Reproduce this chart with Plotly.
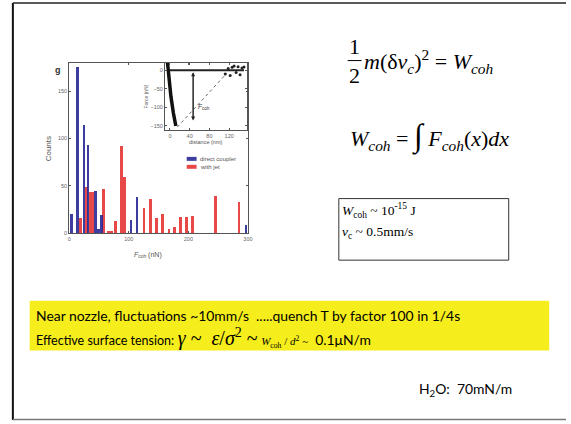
import plotly.graph_objects as go

W, H = 571, 424

# ---- histogram data: cohesive force distribution (counts per bin) ----
direct_force = [4, 14, 25, 32, 44, 49, 55, 104, 114, 297]
direct_counts = [21, 176, 115, 94, 45, 5, 20, 15, 39, 9]

jet_force = [19, 29, 35, 39, 58, 66, 71, 78, 88, 93, 126, 137, 147, 157,
             168, 177, 187, 197, 207, 246, 285]
jet_counts = [17, 49, 44, 44, 47, 3, 3, 14, 92, 60, 27, 37, 17, 21,
              5, 7, 18, 18, 19, 40, 33]

series_names = ["direct coupler", "with jet"]
series_colors = ["rgba(40,40,150,0.9)", "rgba(228,52,52,0.9)"]

x_ticks = [0, 100, 200, 300]
y_ticks = [0, 50, 100, 150]

# ---- inset: force-distance curve ----
approach_dist = [-5, -2, 2, 7, 12]
approach_force = [22, -20, -70, -115, -150]
baseline_dist = [0, 150]
baseline_force = [0, 0]
noise_dist = [112, 118, 122, 126, 130, 134, 138, 142, 146, 150]
noise_force = [-10, 5, -14, 8, 12, -6, 10, -12, 6, 9]
fit_dist = [15, 115]
fit_force = [-153, -8]
fcoh_dist = 47
fcoh_top, fcoh_bottom = -5, -135
inset_x_ticks = [0, 40, 80, 120]
inset_y_ticks = [0, -50, -100, -150]


def fx(px):
    return px / W


def fy(py):
    return 1 - py / H


fig = go.Figure()

fig.add_trace(go.Bar(x=jet_force, y=jet_counts, width=4.5, name=series_names[1],
                     marker=dict(color=series_colors[1], line=dict(width=0))))
fig.add_trace(go.Bar(x=direct_force, y=direct_counts, width=4.5, name=series_names[0],
                     marker=dict(color=series_colors[0], line=dict(width=0))))

# inset traces
fig.add_trace(go.Scatter(x=baseline_dist, y=baseline_force, mode="lines",
                         line=dict(color="#222", width=2), xaxis="x2", yaxis="y2"))
fig.add_trace(go.Scatter(x=approach_dist, y=approach_force, mode="lines",
                         line=dict(color="#111", width=3.5), xaxis="x2", yaxis="y2"))
fig.add_trace(go.Scatter(x=fit_dist, y=fit_force, mode="lines",
                         line=dict(color="#666", width=1, dash="dot"), xaxis="x2", yaxis="y2"))
fig.add_trace(go.Scatter(x=noise_dist, y=noise_force, mode="markers",
                         marker=dict(color="#222", size=3), xaxis="x2", yaxis="y2"))

axis_common = dict(showline=True, linecolor="#555", linewidth=1, mirror="ticks",
                   ticks="inside", ticklen=2, tickcolor="#555", showgrid=False,
                   zeroline=False, tickfont=dict(size=5.5, color="#666", family="Liberation Sans"))

fig.update_layout(
    width=W, height=H,
    margin=dict(l=0, r=0, t=0, b=0),
    paper_bgcolor="white", plot_bgcolor="rgba(0,0,0,0)",
    barmode="overlay", bargap=0,
    showlegend=False,
    xaxis=dict(domain=[fx(68), fx(249)], range=[0, 300], tickvals=x_ticks,
               anchor="y", **axis_common),
    yaxis=dict(domain=[fy(235), fy(63)], range=[0, 180], tickvals=y_ticks,
               anchor="x", **axis_common),
    xaxis2=dict(domain=[fx(165), fx(248)], range=[-10, 156], tickvals=inset_x_ticks,
                anchor="y2", **axis_common),
    yaxis2=dict(domain=[fy(131), fy(63)], range=[-161, 21], tickvals=inset_y_ticks,
                anchor="x2", **axis_common),
)

ann = []


def text(px, py, s, size, family="Liberation Serif", color="black", xanchor="left",
         yanchor="middle", angle=0):
    ann.append(dict(x=fx(px), y=fy(py), xref="paper", yref="paper", text=s,
                    showarrow=False, xanchor=xanchor, yanchor=yanchor, textangle=angle,
                    borderpad=0,
                    font=dict(size=size, family=family, color=color)))


# chart labels
text(48, 150, "Counts", 8, family="Liberation Sans", color="#555", xanchor="center", angle=-90)
text(148, 257, "<i>F</i><sub>coh</sub> (nN)", 7, family="Liberation Sans", color="#555",
     xanchor="center")
text(57, 71, "<b>g</b>", 9, family="Liberation Sans", color="#333", xanchor="center")
text(146, 97, "Force (nN)", 5, family="Liberation Sans", color="#555", xanchor="center", angle=-90)
text(206, 143, "distance (nm)", 5.5, family="Liberation Sans", color="#555", xanchor="center")

# hand-placed legend
legend_rows = [(160, 0), (168, 1)]
shapes = []
for row_y, idx in legend_rows:
    shapes.append(dict(type="rect", xref="paper", yref="paper",
                       x0=fx(187), x1=fx(197), y0=fy(row_y + 2), y1=fy(row_y - 2),
                       line=dict(width=0), fillcolor=series_colors[idx]))
    text(199, row_y, series_names[idx], 6, family="Liberation Sans", color="#555")

# F_coh arrow in inset
for a, b in [(fcoh_bottom, fcoh_top), (fcoh_top, fcoh_bottom)]:
    ann.append(dict(x=fcoh_dist, y=a, ax=fcoh_dist, ay=b, xref="x2", yref="y2",
                    axref="x2", ayref="y2", showarrow=True, arrowhead=2, arrowsize=0.8,
                    arrowwidth=1, arrowcolor="#222", text=""))
ann.append(dict(x=fcoh_dist + 5, y=-98, xref="x2", yref="y2", showarrow=False,
                text="<i>F</i><sub>coh</sub>", xanchor="left",
                font=dict(size=6.5, family="Liberation Sans", color="#333")))

# equations
text(357, 47, "1", 22, xanchor="center")
text(357, 76, "2", 22, xanchor="center")
text(365, 62, "<i>m</i>(δ<i>v</i><sub><i>c</i></sub>)<sup>2</sup> = <i>W</i><sub><i>coh</i></sub>", 22)
text(351, 137, "<i>W</i><sub><i>coh</i></sub> = "
     "<span style=\"font-size:32px\">∫</span> <i>F</i><sub><i>coh</i></sub>(<i>x</i>)<i>dx</i>", 22)

text(343, 212, "<i>W</i><sub>coh</sub> ~ 10<sup>-15</sup> J", 13.5)
text(343, 234, "<i>v</i><sub>c</sub> ~ 0.5mm/s", 13.5)

# yellow note
text(33, 318, "Near nozzle, fluctuations ~10mm/s \u00a0.....quench T by factor 100 in 1/4s",
     13.9, family="Lato")
text(33, 340,
     "<span style=\"font-size:12.5px\">Effective surface tension:</span> "
     "<span style=\"font-family:Liberation Serif;font-size:20px\"><i>γ</i> ~ \u00a0<i>ε</i>/<i>σ</i>"
     "<sup>2</sup> ~</span> "
     "<span style=\"font-family:Liberation Serif;font-size:11px\"><i>W</i><sub>coh</sub> / <i>d</i>"
     "<sup>2</sup> ~</span> \u00a00.1μN/m",
     13.9, family="Lato")

text(421, 392, "H<sub>2</sub>O: \u00a070mN/m", 13.9, family="Lato")

fig.update_layout(annotations=ann)

shapes += [
    # slide frame
    dict(type="line", xref="paper", yref="paper", x0=fx(11), x1=fx(11), y0=fy(3), y1=fy(423),
         line=dict(color="#111", width=2)),
    dict(type="line", xref="paper", yref="paper", x0=fx(11), x1=1, y0=fy(3), y1=fy(3),
         line=dict(color="#222", width=1.5)),
    dict(type="line", xref="paper", yref="paper", x0=fx(11), x1=1, y0=fy(422.5), y1=fy(422.5),
         line=dict(color="#777", width=1.5)),
    # fraction bar
    dict(type="line", xref="paper", yref="paper", x0=fx(350), x1=fx(364), y0=fy(61), y1=fy(61),
         line=dict(color="black", width=1)),
    # estimate box
    dict(type="rect", xref="paper", yref="paper", x0=fx(341), x1=fx(513), y0=fy(200), y1=fy(262),
         line=dict(color="#333", width=1), fillcolor="rgba(0,0,0,0)"),
    # yellow highlight
    dict(type="rect", xref="paper", yref="paper", x0=fx(28), x1=fx(554), y0=fy(303), y1=fy(353),
         line=dict(width=0), fillcolor="#f6ed1c", layer="below"),
]
fig.update_layout(shapes=shapes)

fig.write_html("out.html")
